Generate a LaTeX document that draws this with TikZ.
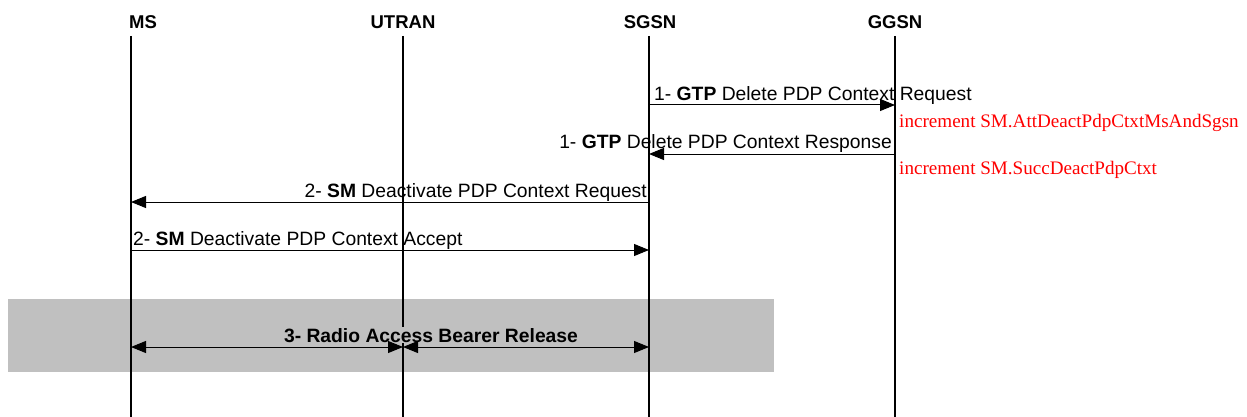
\documentclass[tikz,border=0pt]{standalone}
\usepackage{fontspec}
\setmainfont{Liberation Sans}
\newfontfamily\redfont{Liberation Serif}
\usetikzlibrary{arrows.meta}
\definecolor{bandgray}{RGB}{192,192,192}
\begin{document}
\begin{tikzpicture}[x=1pt,y=-1pt,
  hdr/.style={font=\fontsize{18.5}{20}\selectfont\bfseries, inner sep=0pt},
  life/.style={line width=2pt, black},
  msg/.style={line width=1pt, -{Triangle[length=15pt,width=12pt]}},
  dmsg/.style={line width=1pt, {Triangle[length=15pt,width=12pt]}-{Triangle[length=15pt,width=12pt]}},
  lbl/.style={font=\fontsize{19.3}{21}\selectfont, inner sep=0pt},
  cnt/.style={font=\redfont\fontsize{19.1}{21}\selectfont, text=red, inner sep=0pt, anchor=base west}]
\useasboundingbox (0,0) rectangle (1247,417);
% band
\fill[bandgray] (8,299) rectangle (774,372);
% headers
\node[hdr, anchor=west] (ms) at (129,22) {MS};
\node[hdr] (utran) at (403,22) {UTRAN};
\node[hdr] (sgsn) at (650,22) {SGSN};
\node[hdr] (ggsn) at (895,22) {GGSN};
% lifelines
\coordinate (msT) at (131,36);   \coordinate (msB) at (131,417);
\coordinate (utT) at (403,36);   \coordinate (utB) at (403,417);
\coordinate (sgT) at (649,36);   \coordinate (sgB) at (649,417);
\coordinate (ggT) at (895,36);   \coordinate (ggB) at (895,417);
\draw[life] (msT) -- (msB);
\draw[life] (utT) -- (utB);
\draw[life] (sgT) -- (sgB);
\draw[life] (ggT) -- (ggB);
% message end points
\coordinate (m1a) at (649,105); \coordinate (m1b) at (895,105);
\coordinate (m2a) at (895,154); \coordinate (m2b) at (649,154);
\coordinate (m3a) at (649,202); \coordinate (m3b) at (131,202);
\coordinate (m4a) at (131,250); \coordinate (m4b) at (649,250);
\coordinate (r1) at (131,347); \coordinate (r2) at (403,347); \coordinate (r3) at (649,347);
% messages
\draw[msg] (m1a) -- (m1b);
\node[lbl, anchor=base west] (l1) at (654,101) {1- \textbf{GTP} Delete PDP Context Request};
\node[cnt] (c1) at (899,128) {increment SM.AttDeactPdpCtxtMsAndSgsn};
\draw[msg] (m2a) -- (m2b);
\node[lbl, anchor=base east] (l2) at (892,149) {1- \textbf{GTP} Delete PDP Context Response};
\node[cnt] (c2) at (899,175) {increment SM.SuccDeactPdpCtxt};
\draw[msg] (m3a) -- (m3b);
\node[lbl, anchor=base east] (l3) at (647,197) {2- \textbf{SM} Deactivate PDP Context Request};
\draw[msg] (m4a) -- (m4b);
\node[lbl, anchor=base west] (l4) at (133,245) {2- \textbf{SM} Deactivate PDP Context Accept};
% RAB release
\node[lbl, font=\fontsize{19.3}{21}\selectfont\bfseries, fill=bandgray, inner sep=1pt, anchor=base] (l5) at (431,342) {3- Radio Access Bearer Release};
\draw[dmsg] (r1) -- (r2);
\draw[dmsg] (r2) -- (r3);
\end{tikzpicture}
\end{document}
